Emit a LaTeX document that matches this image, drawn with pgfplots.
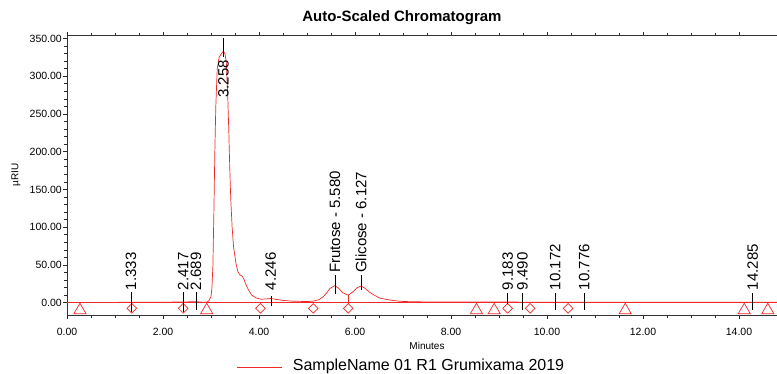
\documentclass[border=0pt]{standalone}
\usepackage{pgfplots}
\pgfplotsset{compat=1.18}
\usepackage{fontspec}
\setmainfont{Liberation Sans}
\definecolor{trace}{RGB}{240,40,40}
\begin{document}
\begin{tikzpicture}[x=1pt,y=1pt]
\useasboundingbox (0,0) rectangle (777,374);
\begin{axis}[
  at={(67pt,59pt)}, anchor=south west,
  scale only axis, width=712.8pt, height=279.3pt,
  xmin=0, xmax=14.85, ymin=-16.3, ymax=353.6,
  xtick={0,2,...,14}, ytick={0,50,...,350},
  minor x tick num=3, minor y tick num=4,
  tick align=outside, major tick length=4pt, minor tick length=3pt,
  tick style={black!85, line width=0.6pt},
  axis line style={black!80, line width=0.9pt},
  /pgf/number format/.cd, fixed, fixed zerofill, precision=2, assume math mode=true,
  /pgfplots/.cd,
  ticklabel style={font=\fontsize{10.5}{12}\selectfont, inner sep=1pt},
  xticklabel style={yshift=-8pt},
  clip mode=individual,
]
% chromatogram trace
\addplot[trace, line width=0.7pt, mark=none] coordinates {
(0,0.3) (0.5,0.3) (1.0,0.4) (1.333,0.6) (1.6,0.5) (2.0,0.6) (2.417,1.0) (2.6,1.2)
(2.689,1.3) (2.8,0.8) (2.9,0.6) (2.95,2) (3.00,8) (3.02,20) (3.04,50) (3.06,120)
(3.08,200) (3.10,260) (3.13,310) (3.17,325) (3.22,330) (3.258,333) (3.29,330)
(3.32,318) (3.35,270) (3.37,229) (3.39,180) (3.41,140) (3.44,100) (3.47,74)
(3.52,52) (3.56,41) (3.60,37) (3.65,35) (3.68,32) (3.72,25) (3.78,17) (3.85,10)
(3.95,6) (4.05,4.5) (4.15,5) (4.246,5.5) (4.35,4.5) (4.5,3) (4.7,2) (5.0,1.5)
(5.13,2) (5.25,4) (5.34,8) (5.41,13) (5.48,19) (5.58,22.5) (5.66,19) (5.75,13)
(5.86,10) (5.95,14) (6.05,20) (6.127,22) (6.2,19.5) (6.3,14) (6.4,10) (6.52,6)
(6.73,3.5) (6.94,1.8) (7.2,1.2) (7.6,1) (8.5,0.8) (9.183,0.8) (10,0.7) (11,0.6)
(12,0.5) (13,0.5) (14,0.5) (14.85,0.5)};
% integration baseline and drop line
\addplot[trace, line width=0.6pt, mark=none] coordinates {(0,0) (14.85,0)};
\addplot[trace, line width=0.6pt, mark=none] coordinates {(5.86,10) (5.86,-2)};
% triangle markers
\addplot[trace, only marks, mark=triangle, mark size=7pt, mark options={line width=0.7pt}] coordinates {
(0.27,-10) (2.91,-10) (8.53,-10) (8.90,-10) (11.63,-10) (14.11,-10) (14.60,-10)};
% diamond markers
\addplot[trace, only marks, mark=square, mark size=3.4pt, mark options={rotate=45, line width=0.7pt}] coordinates {
(1.35,-7.5) (2.42,-7.5) (4.03,-7.5) (5.13,-7.5) (5.86,-7.5) (9.18,-7.5) (9.65,-7.5) (10.44,-7.5)};
% peak tick lines
\addplot[black, line width=0.6pt, mark=none, unbounded coords=jump] coordinates {
(1.333,-12) (1.333,14) (1.333,nan)
(2.417,-12) (2.417,14) (2.417,nan)
(2.689,-10) (2.689,14) (2.689,nan)
(3.258,326) (3.258,350) (3.258,nan)
(4.246,-5) (4.246,9) (4.246,nan)
(5.580,12) (5.580,37) (5.580,nan)
(6.127,17) (6.127,37) (6.127,nan)
(9.183,-2) (9.183,13) (9.183,nan)
(9.490,-10) (9.490,13) (9.490,nan)
(10.172,-10) (10.172,13) (10.172,nan)
(10.776,-10) (10.776,13) (10.776,nan)
(14.285,-10) (14.285,13)};
% peak labels
\addplot[draw=none, mark=none, nodes near coords, point meta=explicit symbolic,
  nodes near coords style={rotate=90, anchor=west, inner sep=1pt, black,
  font=\fontsize{15}{16}\selectfont}] coordinates {
(1.333,15) [1.333] (2.417,15) [2.417] (2.689,15) [2.689] (4.246,15) [4.246]
(5.580,38) [Frutose - 5.580] (6.127,38) [Glicose - 6.127]
(9.183,15) [9.183] (9.490,15) [9.490] (10.172,15) [10.172] (10.776,15) [10.776]
(14.285,15) [14.285]};
\addplot[draw=none, mark=none, nodes near coords, point meta=explicit symbolic,
  nodes near coords style={rotate=90, anchor=east, inner sep=1pt, black,
  font=\fontsize{15}{16}\selectfont}] coordinates {(3.258,323) [3.258]};
\end{axis}
\node[font=\bfseries\fontsize{15}{17}\selectfont] at (402,356) {Auto-Scaled Chromatogram};
\node[font=\fontsize{10}{12}\selectfont] at (427,28) {Minutes};
\node[font=\fontsize{10}{12}\selectfont, rotate=90] at (16,199) {µRIU};
\draw[trace, line width=0.9pt] (237,7) -- (282,7);
\node[anchor=base west, inner sep=0pt, font=\fontsize{16}{18}\selectfont] at (292.7,3.8) {SampleName 01 R1 Grumixama 2019};
\end{tikzpicture}
\end{document}
